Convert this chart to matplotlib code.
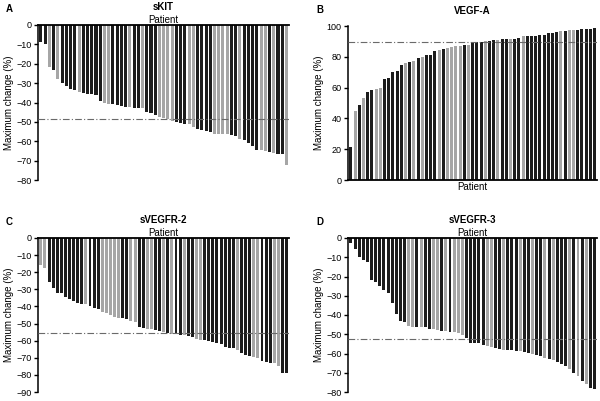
import matplotlib
matplotlib.use("Agg")
import matplotlib.pyplot as plt
import numpy as np

plt.rcParams['font.family'] = ['Liberation Sans', 'DejaVu Sans']

# sKIT
skit = [-8.6, -10, -21.5, -23, -27.7, -29.8, -31.5, -33.2, -33.6, -34.6,
        -35, -35.5, -35.8, -36.2, -39.4, -40, -40.6, -41, -41.3, -41.6,
        -42.2, -42.5, -42.7, -42.7, -43, -44.7, -45.6, -46.5, -47.3, -48.2,
        -48.7, -49.7, -50, -50.4, -51, -51.1, -52.8, -53.9, -54.4, -54.7,
        -55, -56, -56, -56.1, -56.5, -56.8, -57.3, -58.7, -59.4, -61,
        -62.5, -64.5, -64.7, -65, -65.6, -66.3, -66.6, -66.8, -72]
skit_col = "kkgkgkkkkgkkkkkggkkkkgkkgkkkggggkkkggkkkkggggkkgkkkkggkgkkg"

# VEGF-A
vegfa = [21.6, 44.7, 49, 53, 57.2, 58.3, 59.2, 59.8, 65.4, 66.3,
         70.2, 71, 74.5, 75.8, 76.9, 77.3, 79, 79.7, 81, 81.2,
         83.6, 84.4, 84.9, 86, 86.4, 86.8, 87.3, 87.5, 87.7, 89,
         89.6, 89.8, 90.3, 90.5, 90.7, 91.1, 91.4, 91.4, 91.6, 91.8,
         92, 93.5, 93.5, 93.7, 93.7, 94, 94.4, 95.2, 95.7, 95.9,
         96.5, 96.5, 97.2, 97.2, 97.4, 97.8, 97.8, 98, 98.7]
vegfa_col = "kgkgkkggkkkkkgkgkgkkkgkggggkgkkkgkkgkkgkkgkkkkkkkkgkggkkkkk"

# sVEGFR-2
svegfr2 = [-16, -17.5, -26, -29.2, -32.2, -32.4, -34.7, -35.9, -37, -37.8,
           -38.4, -38.8, -40, -40.7, -41.3, -43.5, -44, -45.2, -46, -46.6,
           -47, -47.4, -48.5, -48.9, -52, -52.6, -53.2, -53.4, -54, -54.2,
           -54.8, -55.5, -56, -56.3, -56.5, -56.9, -57.5, -58.1, -59, -59.6,
           -59.8, -60.2, -60.8, -61.4, -62, -63.7, -64.3, -64.5, -65.3, -67.2,
           -68.4, -68.8, -69.8, -70, -71.7, -72.7, -72.9, -73, -74.7, -79, -79]
svegfr2_col = "ggkkkkkkkkkgkkkgggggkkggkkggkkgkgkkgkkggkkkkkkkkgkkkggkkkggkk"

# sVEGFR-3
svegfr3 = [-2.6, -5.7, -10, -11.6, -12.3, -21.6, -22.8, -24.7, -26.8, -28.5,
           -33.6, -39.6, -43.1, -43.8, -45.7, -46, -46, -46.2, -46.4, -47.1,
           -47.4, -47.8, -48.1, -48.4, -48.6, -48.8, -49.5, -50.2, -51.9, -54.5,
           -54.5, -54.8, -55.4, -56.2, -56.7, -57.4, -57.8, -58, -58.1, -58.3,
           -58.7, -58.8, -59.3, -59.9, -60.2, -60.7, -61.4, -62.3, -63, -63.3,
           -64.5, -65.7, -66.4, -67.8, -70.2, -71.8, -74.4, -75.8, -77.9, -78.4]
svegfr3_col = "kkkkkkkkkkkkkkggkgkkggkgkgggkkkkkggkkgkkkgkkgkkgkgkkkgkgkgkk"

medians = {"sKIT": -48.5, "VEGF-A": 89.5, "sVEGFR-2": -55.5, "sVEGFR-3": -52.5}

BLACK = "#1c1c1c"
GRAY = "#a6a6a6"
W, H = 600.0, 401.0


def px_axes(fig, x0, y0, x1, y1):
    return fig.add_axes([x0 / W, 1 - y1 / H, (x1 - x0) / W, (y1 - y0) / H])


def panel(fig, box, vals, cols, title, letter, ylim, yticks, neg=True):
    ax = px_axes(fig, *box)
    x = np.arange(len(vals))
    colors = [BLACK if c == "k" else GRAY for c in cols[:len(vals)]]
    ax.bar(x, vals, width=0.72, color=colors, zorder=2)
    ax.axhline(medians[title], color="#6a6a6a", lw=0.8, ls=(0, (6, 2, 1, 2)), zorder=3)
    ax.set_xlim(-0.7, len(vals) - 0.4)
    ax.set_ylim(*ylim)
    ax.set_yticks(yticks)
    ax.set_yticklabels(["%d" % t if t >= 0 else "\u2212%d" % -t for t in yticks])
    ax.set_xticks([])
    ax.spines["right"].set_visible(False)
    if neg:
        ax.spines["bottom"].set_visible(False)
        ax.spines["top"].set_linewidth(1.3)
        ax.xaxis.set_label_position("top")
    else:
        ax.spines["top"].set_visible(False)
        ax.spines["bottom"].set_linewidth(1.3)
    ax.spines["left"].set_linewidth(1.1)
    ax.tick_params(axis="y", labelsize=6.5, length=3, width=1, pad=1.5)
    ax.set_xlabel("Patient", fontsize=7, labelpad=1.5)
    ax.set_ylabel("Maximum change (%)", fontsize=7, labelpad=2)
    ax.set_title(title, fontsize=7, fontweight="bold", pad=10.5 if neg else 9)
    fig.text((box[0] - 32) / W, 1 - (box[1] - 16) / H, letter, fontsize=7,
             fontweight="bold", va="center", ha="left")
    return ax


fig = plt.figure(figsize=(6.0, 4.01), dpi=100)

panel(fig, (38, 25, 289, 180), skit, skit_col, "sKIT", "A",
      (-80, 0), list(range(0, -81, -10)))
panel(fig, (348, 26, 597, 180), vegfa, vegfa_col, "VEGF-A", "B",
      (0, 100), list(range(0, 101, 20)), neg=False)
panel(fig, (38, 238, 289, 392), svegfr2, svegfr2_col, "sVEGFR-2", "C",
      (-90, 0), list(range(0, -91, -10)))
panel(fig, (348, 238, 597, 392), svegfr3, svegfr3_col, "sVEGFR-3", "D",
      (-80, 0), list(range(0, -81, -10)))

fig.savefig("out.png", dpi=100)
